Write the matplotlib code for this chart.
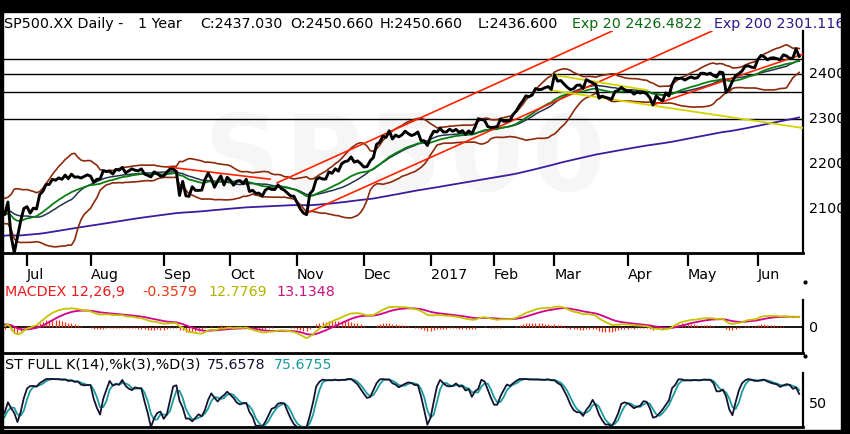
import numpy as np
import pandas as pd
import matplotlib
matplotlib.use("Agg")
import matplotlib.pyplot as plt
from matplotlib.lines import Line2D
from matplotlib.patches import Rectangle

# ---- data: SP500 daily closes, May 2016 (warm-up) .. Jun 20 2017 ----
closes_may16 = [2081.43, 2063.37, 2051.12, 2050.63, 2057.14, 2058.69, 2084.39, 2064.46, 2064.11, 2046.61,
                2066.66, 2047.21, 2047.63, 2040.04, 2052.32, 2048.04, 2076.06, 2090.54, 2090.10, 2099.06,
                2096.95]
closes_jun16 = [2099.33, 2105.26, 2099.13, 2109.41, 2112.13, 2119.12, 2115.48, 2096.07, 2079.06, 2075.32,
                2071.50, 2077.99, 2071.22, 2083.25, 2088.90, 2085.45, 2113.32, 2037.41, 2000.54, 2036.09,
                2070.77, 2098.86]
closes_jul16 = [2102.95, 2088.55, 2099.73, 2097.90, 2129.90, 2137.16, 2152.14, 2152.43, 2163.75, 2161.74,
                2166.89, 2163.78, 2173.02, 2165.17, 2175.03, 2168.48, 2169.18, 2166.58, 2170.06, 2173.60]
closes_aug16 = [2170.84, 2157.03, 2163.79, 2164.25, 2182.87, 2180.89, 2181.74, 2175.49, 2185.79, 2184.05,
                2190.15, 2178.15, 2182.22, 2187.02, 2183.87, 2182.64, 2186.90, 2175.44, 2172.47, 2169.04,
                2180.38, 2176.12, 2170.95]
closes_sep16 = [2170.86, 2179.98, 2186.48, 2186.16, 2181.30, 2127.81, 2159.04, 2127.02, 2125.77, 2147.26,
                2139.16, 2139.12, 2139.76, 2163.12, 2177.18, 2164.69, 2146.10, 2159.93, 2171.37, 2151.13,
                2168.27]
closes_oct16 = [2161.20, 2150.49, 2159.73, 2160.77, 2153.74, 2163.66, 2136.73, 2139.18, 2132.55, 2132.98,
                2126.50, 2139.60, 2144.29, 2141.34, 2141.16, 2151.33, 2143.16, 2139.43, 2133.04, 2126.41,
                2126.15]
closes_nov16 = [2111.72, 2097.94, 2088.66, 2085.18, 2131.52, 2139.56, 2163.26, 2167.48, 2164.45, 2164.20,
                2180.39, 2176.94, 2187.12, 2181.90, 2198.18, 2202.94, 2204.72, 2213.35, 2201.72, 2204.66,
                2198.81]
closes_dec16 = [2191.08, 2191.95, 2204.71, 2212.23, 2241.35, 2246.19, 2259.53, 2256.96, 2271.72, 2253.28,
                2262.03, 2258.07, 2262.53, 2270.76, 2265.18, 2260.96, 2263.79, 2268.88, 2249.92, 2249.26,
                2238.83]
closes_jan17 = [2257.83, 2270.75, 2269.00, 2276.98, 2268.90, 2268.90, 2275.32, 2270.44, 2274.64, 2267.89,
                2271.89, 2263.69, 2271.31, 2265.20, 2280.07, 2298.37, 2296.68, 2294.69, 2280.90, 2278.87]
closes_feb17 = [2279.55, 2280.85, 2297.42, 2292.56, 2293.08, 2294.67, 2307.87, 2316.10, 2328.25, 2337.58,
                2349.25, 2347.22, 2351.16, 2365.38, 2362.82, 2363.81, 2367.34, 2369.75, 2363.64]
closes_mar17 = [2395.96, 2381.92, 2383.12, 2375.31, 2368.39, 2362.98, 2364.87, 2372.60, 2373.47, 2365.45,
                2385.26, 2381.38, 2378.25, 2373.47, 2344.02, 2348.45, 2345.96, 2343.98, 2341.59, 2358.57,
                2361.13, 2368.06, 2362.72]
closes_apr17 = [2358.84, 2360.16, 2352.95, 2357.49, 2355.54, 2357.16, 2353.78, 2344.93, 2328.95, 2349.01,
                2342.19, 2338.17, 2355.84, 2348.69, 2374.15, 2388.61, 2387.45, 2388.77, 2384.20]
closes_may17 = [2388.33, 2391.17, 2388.13, 2389.52, 2399.29, 2399.38, 2396.92, 2399.63, 2394.44, 2390.90,
                2402.32, 2400.67, 2357.03, 2365.72, 2381.73, 2394.02, 2398.42, 2404.39, 2415.07, 2415.82,
                2412.91, 2411.80]
closes_jun17 = [2430.06, 2439.07, 2436.10, 2429.33, 2433.14, 2433.79, 2431.77, 2429.39, 2440.35, 2437.92,
                2432.46, 2433.15, 2453.46, 2437.03]

holidays = ["2016-05-30", "2016-07-04", "2016-09-05", "2016-11-24", "2016-12-26", "2017-01-02",
            "2017-01-16", "2017-02-20", "2017-04-14", "2017-05-29"]

month_labels = ["Jul", "Aug", "Sep", "Oct", "Nov", "Dec", "2017", "Feb", "Mar", "Apr", "May", "Jun"]
price_ticks = [2100, 2200, 2300, 2400]
hlines = [2430, 2397, 2358, 2298]
ema200_seed = 2038

# trendlines: (trading days from 1 Jul 2016, value) pairs
red_lines = [((78.7, 2156), (184.1, 2493)),
             ((88.1, 2089), (215.5, 2493)),
             ((197.0, 2329), (244.2, 2442)),
             ((44.4, 2191), (76.5, 2164))]
yellow_lines = [((165.5, 2396), (195.1, 2362)),
                ((164.6, 2362), (243.9, 2278))]

# ---- series ----
dates = pd.bdate_range("2016-05-02", "2017-06-20")
dates = dates[~dates.isin(pd.to_datetime(holidays))]
allc = (closes_may16 + closes_jun16 + closes_jul16 + closes_aug16 + closes_sep16 + closes_oct16 +
        closes_nov16 + closes_dec16 + closes_jan17 + closes_feb17 + closes_mar17 + closes_apr17 +
        closes_may17 + closes_jun17)
close = pd.Series(allc, index=dates)
i0 = dates.get_loc(pd.Timestamp("2016-07-01"))
x = np.arange(len(close)) - i0

ema20 = close.ewm(span=20, adjust=False).mean()
sma20 = close.rolling(20).mean()
sd20 = close.rolling(20).std(ddof=0)
bb_up = sma20 + 2 * sd20
bb_lo = sma20 - 2 * sd20

start = i0 - 8
ema200 = pd.concat([pd.Series([ema200_seed]), close.iloc[start + 1:].reset_index(drop=True)])
ema200 = ema200.ewm(span=200, adjust=False).mean().values
x200 = x[start:]

macd = close.ewm(span=12, adjust=False).mean() - close.ewm(span=26, adjust=False).mean()
signal = macd.ewm(span=9, adjust=False).mean()
hist = macd - signal

ll = close.rolling(14).min()
hh = close.rolling(14).max()
k_fast = 100 * (close - ll) / (hh - ll)
k_slow = k_fast.rolling(3).mean()
d_slow = k_slow.rolling(3).mean()

# month ticks at first trading day of each month
mstart = [i for i in range(1, len(dates)) if dates[i].month != dates[i - 1].month]
mstart = [i - i0 for i in mstart if i >= i0]

# ---- figure ----
W, H = 850, 434
fig = plt.figure(figsize=(W / 100, H / 100), dpi=100)
fig.patch.set_facecolor("white")
plt.rcParams["font.family"] = "DejaVu Sans"
FS = 10.3

def fx(px):
    return px / W

def fy(py):
    return 1 - py / H

xl = (-7.55, 244.2)
ax1 = fig.add_axes([fx(3), fy(253), 800 / W, (253 - 31) / H])
ax2 = fig.add_axes([fx(3), fy(353), 800 / W, (353 - 300) / H])
ax3 = fig.add_axes([fx(3), fy(427), 800 / W, (427 - 373) / H])
for ax in (ax1, ax2, ax3):
    ax.set_xlim(*xl)
    ax.spines["top"].set_visible(False)
    ax.spines["left"].set_visible(False)
    ax.spines["bottom"].set_linewidth(2)
    ax.spines["right"].set_linewidth(1.6)
    ax.yaxis.tick_right()
    ax.tick_params(axis="y", length=0, pad=4, labelsize=FS)

# faint watermark behind the price lines
for k, ch in enumerate("SP500"):
    ax1.text(fx(241 + 82 * k), fy(162), ch, fontsize=76, fontweight="bold", color="#f6f6f6",
             ha="center", va="center", zorder=0, transform=fig.transFigure)

# main panel
ax1.set_ylim(2000, 2493.3)
for h in hlines:
    ax1.axhline(h, color="black", lw=1.0, zorder=1)
ax1.plot(x200, ema200, color="#3b1ca0", lw=1.3, zorder=2)
ax1.plot(x, bb_up, color="#8c2a0c", lw=1.2, zorder=2)
ax1.plot(x, bb_lo, color="#8c2a0c", lw=1.2, zorder=2)
ax1.plot(x, sma20, color="#24344e", lw=1.1, zorder=3)
ax1.plot(x, ema20, color="#0a7d12", lw=1.3, zorder=3)
for (a, b) in red_lines:
    ax1.plot([a[0], b[0]], [a[1], b[1]], color="#ff2200", lw=1.2, zorder=4)
for (a, b) in yellow_lines:
    ax1.plot([a[0], b[0]], [a[1], b[1]], color="#d4d400", lw=1.3, zorder=4)
ax1.plot(x, close, color="black", lw=2.1, zorder=5)
ax1.set_yticks(price_ticks)
ax1.set_xticks(mstart)
ax1.set_xticklabels(month_labels, ha="left", fontsize=FS)
ax1.tick_params(axis="x", length=9, width=1.6, pad=2, direction="out")

# MACD panel
ax2.set_ylim(-33.8, 35.1)
ax2.axhline(0, color="black", lw=1.3, zorder=1)
ax2.vlines(x, 0, hist, color="#ff3010", lw=0.9, zorder=2)
ax2.plot(x, signal, color="#d4008c", lw=1.3, zorder=3)
ax2.plot(x, macd, color="#c4c400", lw=1.3, zorder=3)
ax2.set_yticks([0])
ax2.set_xticks([])

# stochastic panel
ax3.set_ylim(0, 112.5)
ax3.plot(x, d_slow, color="#1a9c9c", lw=1.3, zorder=3)
ax3.plot(x, k_slow, color="#141432", lw=1.3, zorder=3)
ax3.set_yticks([50])
ax3.set_xticks([])

# header / panel labels
hdr = [(4, "SP500.XX Daily -", "black"), (138, "1 Year", "black"), (200, "C:2437.030", "black"),
       (290, "O:2450.660", "black"), (380, "H:2450.660", "black"), (478, "L:2436.600", "black"),
       (572, "Exp 20 2426.4822", "#0a6a12"), (714, "Exp 200 2301.116", "#2a1a86")]
for px, s, c in hdr:
    fig.text(fx(px), fy(24), s, color=c, fontsize=FS, va="center", ha="left")
macd_lbl = [(5, "MACDEX 12,26,9", "#ee1a1a"), (142, "-0.3579", "#e83a12"),
            (208, "12.7769", "#b4b400"), (276, "13.1348", "#c8127e")]
for px, s, c in macd_lbl:
    fig.text(fx(px), fy(292), s, color=c, fontsize=FS, va="center", ha="left")
st_lbl = [(5, "ST FULL K(14),%k(3),%D(3)", "black"), (207, "75.6578", "#141432"),
          (274, "75.6755", "#1a9c9c")]
for px, s, c in st_lbl:
    fig.text(fx(px), fy(365), s, color=c, fontsize=FS, va="center", ha="left")

# little panel markers on the right
for py in (282, 356):
    fig.add_artist(Line2D([fx(805)], [fy(py)], marker="o", ms=2, color="black",
                          transform=fig.transFigure))

# black frame
for r in [(0, fy(12), 1, 12 / H), (0, 0, fx(3), 1), (fx(841), 0, 1, 1), (0, 0, 1, 4 / H)]:
    fig.add_artist(Rectangle((r[0], r[1]), r[2], r[3], color="black", transform=fig.transFigure,
                             zorder=10))

fig.savefig("out.png", dpi=100)
